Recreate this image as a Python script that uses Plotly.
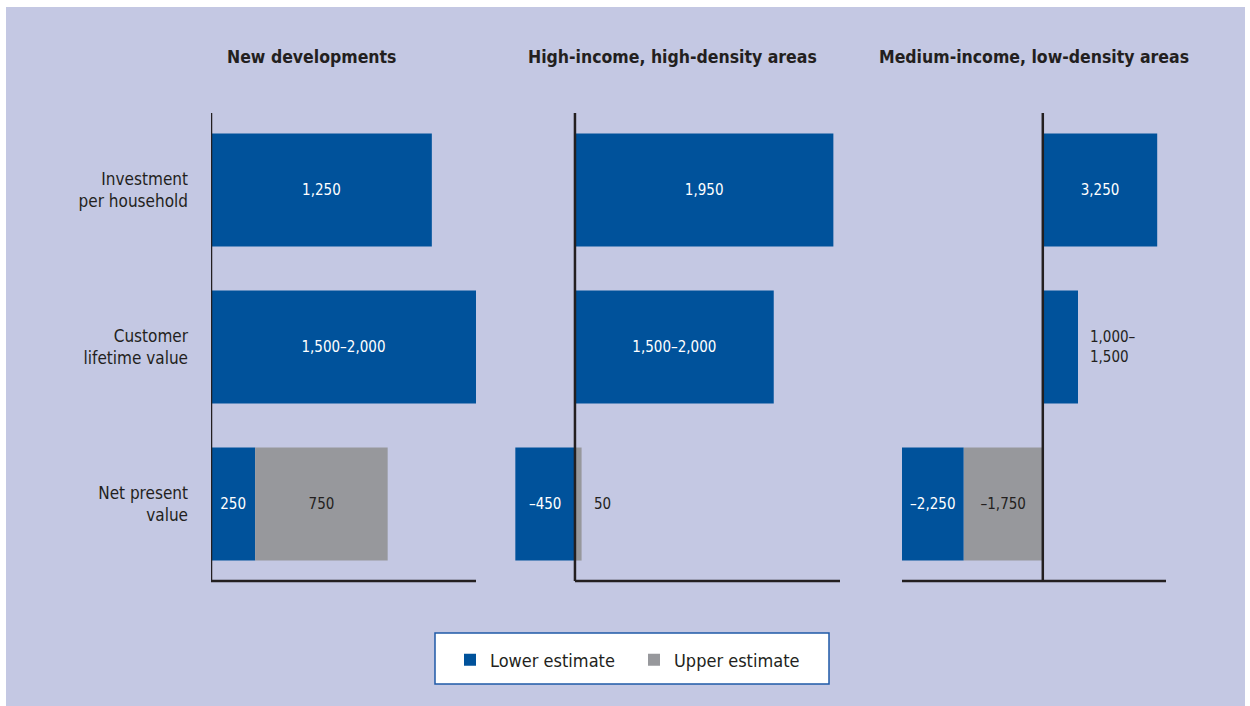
import plotly.graph_objects as go

# ---- data ----
categories = ["Investment<br>per household", "Customer<br>lifetime value", "Net present<br>value"]
panel_titles = ["New developments", "High-income, high-density areas", "Medium-income, low-density areas"]

# bar segment lengths as drawn in the picture
lower_new = [1250, 1500, 250]
upper_new = [None, None, 750]
lower_high = [1950, 1500, -450]
upper_high = [None, None, 50]
lower_med = [3250, 1000, -1750]
upper_med = [None, None, -2250]

# printed labels
lower_new_txt = ["1,250", "1,500–2,000", "250"]
upper_new_txt = ["", "", "750"]
lower_high_txt = ["1,950", "1,500–2,000", "–450"]
upper_high_txt = ["", "", "50"]
lower_med_txt = ["3,250", "1,000–<br>1,500", "–2,250"]
upper_med_txt = ["", "", "–1,750"]

# axis extents per panel
x_ranges = [[0, 1500], [-460, 2000], [-4000, 3500]]
baseline_spans = [[0, 1500], [0, 2000], [-4000, 3500]]

BLUE = "#00529b"
GRAY = "#97989c"
BG = "#c4c8e3"
DARK = "#231f20"
FONT = "Liberation Sans Narrow, DejaVu Sans Condensed, Arial Narrow, sans-serif"

W, H = 1250, 706
def px(x):
    return x / W
def py(y):
    return 1 - y / H

fig = go.Figure()

def bar(vals, txt, color, name, axis, showlegend, txtcolor, outside=()):
    shown = [("" if i in outside else t) for i, t in enumerate(txt)]
    b = go.Bar(
        y=categories, x=vals, orientation="h", name=name,
        marker=dict(color=color, line=dict(width=0)),
        text=shown, textposition="inside", insidetextanchor="middle",
        textangle=0, constraintext="none",
        insidetextfont=dict(family=FONT, size=15, color=txtcolor),
        width=0.72, xaxis="x" + axis, yaxis="y" + axis,
        showlegend=showlegend, legendgroup=name, cliponaxis=False,
        hoverinfo="skip",
    )
    for i in outside:
        fig.add_annotation(text=txt[i], x=vals[i], y=categories[i],
                           xref="x" + axis, yref="y" + axis, xanchor="left",
                           yanchor="middle", align="left", xshift=10, showarrow=False,
                           font=dict(family=FONT, size=15, color=DARK))
    return b

# panel 1
fig.add_trace(bar(lower_new, lower_new_txt, BLUE, "Lower estimate", "", True, "white"))
fig.add_trace(bar(upper_new, upper_new_txt, GRAY, "Upper estimate", "", True, DARK))
# panel 2
fig.add_trace(bar(lower_high, lower_high_txt, BLUE, "Lower estimate", "2", False, "white"))
fig.add_trace(bar(upper_high, upper_high_txt, GRAY, "Upper estimate", "2", False, DARK, outside=(2,)))
# panel 3 (grey segment drawn next to the axis)
fig.add_trace(bar(upper_med, upper_med_txt, GRAY, "Upper estimate", "3", False, DARK))
fig.add_trace(bar(lower_med, lower_med_txt, BLUE, "Lower estimate", "3", False, "white", outside=(1,)))

x_domains = [[px(211), px(476)], [px(514), px(840)], [px(902), px(1166)]]
y_domain = [py(581), py(113)]

layout = dict(
    width=W, height=H,
    margin=dict(l=0, r=0, t=0, b=0),
    paper_bgcolor="white", plot_bgcolor="rgba(0,0,0,0)",
    barmode="relative",
    font=dict(family=FONT, color=DARK),
    showlegend=True,
    legend=dict(orientation="h", x=px(450), xanchor="left", y=py(660), yanchor="middle",
                bgcolor="rgba(0,0,0,0)", borderwidth=0,
                font=dict(family=FONT, size=18, color=DARK),
                entrywidth=139, entrywidthmode="pixels", traceorder="normal"),
)
for i in range(3):
    s = "" if i == 0 else str(i + 1)
    layout["xaxis" + s] = dict(domain=x_domains[i], range=x_ranges[i], showgrid=False,
                               zeroline=False, showline=False, showticklabels=False,
                               anchor="y" + s, fixedrange=True)
    layout["yaxis" + s] = dict(domain=y_domain, range=[2.49, -0.49], showgrid=False,
                               zeroline=False, showline=False, type="category",
                               showticklabels=(i == 0), ticks="",
                               tickfont=dict(family=FONT, size=17, color=DARK),
                               ticklabelstandoff=22,
                               anchor="x" + s, fixedrange=True)
fig.update_layout(**layout)

shapes = [
    dict(type="rect", xref="paper", yref="paper", x0=px(6), x1=px(1245), y0=0, y1=py(7),
         fillcolor=BG, line=dict(width=0), layer="below"),
    dict(type="rect", xref="paper", yref="paper", x0=px(435), x1=px(829), y0=py(684), y1=py(633),
         fillcolor="white", line=dict(color="#1f5aa8", width=1.5), layer="below"),
]
for i in range(3):
    s = "" if i == 0 else str(i + 1)
    shapes.append(dict(type="line", xref="x" + s, yref="y" + s + " domain", x0=0, x1=0, y0=0, y1=1,
                       line=dict(color=DARK, width=2.5), layer="above"))
    shapes.append(dict(type="line", xref="x" + s, yref="y" + s + " domain",
                       x0=baseline_spans[i][0], x1=baseline_spans[i][1], y0=0, y1=0,
                       line=dict(color=DARK, width=2.5), layer="above"))
fig.update_layout(shapes=shapes)

title_centers = [311, 672, 1034]
for t, cx in zip(panel_titles, title_centers):
    fig.add_annotation(text="<b>" + t + "</b>", xref="paper", yref="paper", x=px(cx), y=py(57),
                       xanchor="center", yanchor="middle", showarrow=False,
                       font=dict(family=FONT, size=17.5, color=DARK))

fig.write_html("out.html", config={"displayModeBar": False},
               post_script="document.body.style.margin='0';")
